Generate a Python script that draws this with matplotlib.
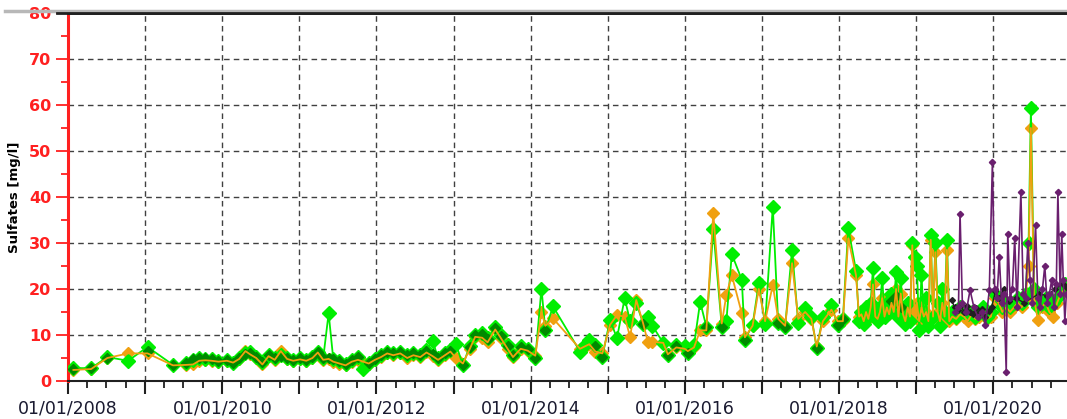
#!/usr/bin/env python3
# -*- coding: utf-8 -*-
"""Sulfates time series, recreated from the station chart"""

import datetime as dt
import matplotlib
matplotlib.use('Agg')
import matplotlib.pyplot as plt
import matplotlib.dates as mdates
from matplotlib.lines import Line2D
from matplotlib.ticker import FuncFormatter, MultipleLocator

# ---- data (decimal years) ----
green_years = [
    2008.07, 2008.30, 2008.51, 2008.78, 2009.03, 2009.36, 2009.53, 2009.62, 2009.70, 2009.78, 2009.86, 2009.95,
    2010.06, 2010.14, 2010.22, 2010.30, 2010.36, 2010.44, 2010.52, 2010.60, 2010.68, 2010.76, 2010.84, 2010.92,
    2011.01, 2011.09, 2011.17, 2011.24, 2011.31, 2011.38, 2011.44, 2011.52, 2011.60, 2011.68, 2011.76, 2011.83,
    2011.90, 2011.98,
    2012.06, 2012.14, 2012.22, 2012.31, 2012.40, 2012.48, 2012.57, 2012.65, 2012.73, 2012.80, 2012.89, 2012.96,
    2013.03, 2013.12, 2013.21, 2013.28, 2013.37, 2013.44, 2013.54, 2013.61, 2013.70, 2013.77, 2013.87, 2013.96,
    2014.06, 2014.14, 2014.19, 2014.29, 2014.64, 2014.70, 2014.76, 2014.84, 2014.93,
    2015.03, 2015.12, 2015.22, 2015.29, 2015.37, 2015.46, 2015.52, 2015.58, 2015.72, 2015.78, 2015.89, 2016.00,
    2016.04, 2016.12, 2016.20, 2016.28, 2016.37, 2016.48, 2016.54, 2016.61, 2016.74, 2016.78, 2016.88, 2016.96,
    2017.04, 2017.14, 2017.21, 2017.30, 2017.39, 2017.47, 2017.56, 2017.64, 2017.71, 2017.79, 2017.90, 2017.98,
    2018.05, 2018.12, 2018.22,
    2018.26, 2018.29, 2018.32, 2018.35, 2018.38, 2018.41, 2018.44, 2018.47, 2018.50, 2018.53, 2018.56, 2018.59,
    2018.62, 2018.65, 2018.68, 2018.71, 2018.74, 2018.77, 2018.80, 2018.83, 2018.86, 2018.89, 2018.92, 2018.95,
    2018.98, 2019.01, 2019.04, 2019.07, 2019.10, 2019.13, 2019.16, 2019.19, 2019.22, 2019.25, 2019.28, 2019.31,
    2019.34, 2019.37, 2019.40, 2019.43,
    2019.47, 2019.52, 2019.57, 2019.62, 2019.67, 2019.72, 2019.77, 2019.82, 2019.87, 2019.92, 2019.97, 2020.02,
    2020.07, 2020.12, 2020.17, 2020.22, 2020.27, 2020.32, 2020.37, 2020.42, 2020.46, 2020.49, 2020.53, 2020.58,
    2020.63, 2020.68, 2020.73, 2020.78, 2020.83, 2020.88, 2020.93,
]
green_vals = [
    2.8, 2.8, 5.2, 4.4, 7.4, 3.5, 4.0, 4.6, 5.0, 4.8, 4.7, 4.3,
    4.6, 4.0, 4.9, 6.0, 6.2, 5.3, 4.2, 5.7, 5.0, 5.6, 5.0, 4.5,
    4.9, 4.6, 5.3, 6.4, 5.0, 14.7, 4.8, 4.4, 3.8, 4.6, 5.2, 2.7,
    4.0, 4.8,
    5.6, 6.4, 6.0, 6.4, 5.6, 6.0, 5.6, 6.7, 8.8, 4.9, 6.0, 6.7,
    8.0, 3.5, 7.6, 10.0, 10.4, 9.3, 11.8, 10.0, 7.8, 5.6, 7.6, 7.0,
    4.9, 20.1, 11.1, 16.2, 6.4, 7.8, 8.9, 7.8, 5.3,
    13.3, 9.3, 18.0, 13.0, 17.0, 12.5, 14.0, 12.0, 8.3, 5.6, 7.8, 7.6,
    6.1, 7.8, 17.2, 11.8, 33.0, 11.8, 13.0, 27.6, 22.0, 9.0, 12.2, 21.2,
    12.3, 37.9, 12.6, 11.8, 28.5, 12.6, 15.8, 14.0, 7.1, 14.0, 16.5, 12.2,
    13.5, 33.2, 24.0,
    13.0, 15.0, 12.5, 16.0, 14.0, 17.0, 24.5, 15.0, 13.0, 16.0, 22.5, 14.0,
    17.0, 15.0, 19.0, 16.0, 23.8, 14.0, 22.5, 15.0, 12.5, 17.0, 13.0, 30.0,
    27.0, 25.0, 11.0, 23.0, 14.0, 18.0, 12.0, 31.7, 14.0, 30.0, 17.0, 12.0,
    20.0, 15.0, 30.7, 14.0,
    15.0, 14.0, 16.0, 15.0, 14.5, 15.0, 14.0, 15.0, 16.0, 14.0, 15.0, 19.0,
    18.0, 16.0, 17.0, 16.0, 17.0, 18.0, 17.0, 19.0, 30.0, 59.3, 20.0, 16.0,
    17.0, 18.0, 16.0, 17.0, 18.0, 20.0, 21.0,
]
orange_vals = [
    2.4, 2.6, 5.0, 6.0, 6.0, 3.4, 3.5, 3.6, 4.4, 4.5, 4.4, 4.2,
    4.4, 4.0, 4.8, 6.5, 5.8, 5.0, 3.6, 5.4, 4.6, 6.5, 4.8, 4.4,
    4.7, 4.4, 5.0, 6.2, 4.6, 4.8, 4.2, 3.8, 3.4, 4.2, 4.6, 4.2,
    3.8, 4.6,
    5.2, 6.0, 5.6, 6.0, 5.0, 5.6, 5.2, 6.2, 5.4, 4.6, 5.6, 6.4,
    5.0, 3.8, 7.0, 9.6, 9.4, 8.4, 11.2, 9.4, 7.0, 5.2, 7.0, 6.6,
    5.5, 15.0, 12.0, 13.6, 7.0, 7.5, 8.0, 6.4, 6.0,
    12.2, 14.3, 14.0, 9.6, 17.6, 12.5, 8.5, 8.5, 8.3, 5.8, 7.3, 7.0,
    6.5, 7.3, 11.0, 11.0, 36.5, 12.5, 18.7, 23.0, 14.7, 9.5, 12.0, 20.0,
    13.0, 20.9, 13.5, 12.0, 25.6, 13.5, 15.0, 13.5, 7.5, 13.0, 15.5, 13.0,
    13.0, 31.0, 23.0,
    14.0, 14.5, 13.0, 15.0, 13.5, 16.0, 21.0, 14.0, 13.5, 15.0, 18.0, 14.0,
    16.0, 14.5, 17.0, 15.0, 20.0, 14.0, 19.0, 14.5, 13.0, 16.0, 14.0, 29.5,
    15.0, 17.0, 13.0, 16.0, 14.0, 15.0, 13.0, 30.7, 14.0, 28.0, 15.0, 13.0,
    17.0, 14.0, 28.5, 13.0,
    14.0, 13.5, 14.5, 14.0, 13.0, 14.5, 13.5, 14.0, 15.0, 13.5, 14.0, 18.0,
    17.0, 15.0, 16.0, 15.0, 16.0, 17.0, 16.0, 18.0, 25.0, 55.0, 18.0, 13.3,
    16.0, 17.0, 15.0, 14.0, 17.0, 19.0, 20.0,
]

dkgreen_years = [
    2008.07, 2008.30, 2008.51, 2009.03, 2009.36, 2009.53, 2009.62, 2009.70, 2009.78, 2009.86, 2009.95,
    2010.06, 2010.14, 2010.22, 2010.30, 2010.36, 2010.44, 2010.52, 2010.60, 2010.68, 2010.76, 2010.84, 2010.92,
    2011.01, 2011.09, 2011.17, 2011.24, 2011.31, 2011.38, 2011.44, 2011.52, 2011.60, 2011.68, 2011.76,
    2011.90, 2011.98,
    2012.06, 2012.14, 2012.22, 2012.31, 2012.40, 2012.48, 2012.57, 2012.65, 2012.73, 2012.80, 2012.89, 2012.96,
    2013.12, 2013.21, 2013.28, 2013.37, 2013.44, 2013.54, 2013.61, 2013.70, 2013.77, 2013.87, 2013.96,
    2014.06, 2014.19, 2014.84, 2014.93, 2015.46, 2015.78, 2015.89, 2016.04, 2016.28, 2016.48, 2016.78,
    2017.21, 2017.30, 2017.71, 2017.98, 2018.05, 2018.68, 2018.74, 2018.80,
]
dkgreen_vals = [
    2.7, 2.8, 5.0, 6.5, 3.4, 4.0, 4.8, 5.0, 4.9, 4.8, 4.3,
    4.6, 4.0, 4.9, 5.8, 6.0, 5.2, 4.2, 5.6, 5.0, 5.5, 5.0, 4.5,
    4.9, 4.6, 5.3, 6.3, 5.0, 5.0, 4.8, 4.4, 3.8, 4.6, 5.2,
    4.0, 4.8,
    5.6, 6.4, 6.0, 6.4, 5.6, 6.0, 5.6, 6.6, 5.8, 4.9, 6.0, 6.6,
    3.5, 7.4, 9.9, 10.2, 9.1, 11.6, 9.8, 7.6, 5.6, 7.4, 6.9,
    4.9, 11.1, 7.6, 5.3, 12.5, 5.6, 7.6, 6.1, 11.8, 11.8, 9.0,
    12.6, 11.8, 7.1, 12.2, 13.4, 17.5, 18.5, 16.0,
]

black_years = [
    2019.46, 2019.50, 2019.54, 2019.58, 2019.62, 2019.66, 2019.70, 2019.74, 2019.78, 2019.82, 2019.86,
    2019.90, 2019.94, 2019.98, 2020.03, 2020.08, 2020.14, 2020.20, 2020.30, 2020.40, 2020.60, 2020.70,
    2020.80, 2020.90, 2020.94,
]
black_vals = [
    17.6, 16.0, 15.4, 16.5, 15.0, 16.2, 15.0, 14.5, 15.8, 14.8, 15.6,
    14.0, 15.2, 16.0, 19.5, 18.0, 20.0, 17.5, 18.0, 17.0, 19.0, 18.5,
    20.0, 21.0, 20.5,
]

purple_years = [
    2019.50, 2019.55, 2019.57, 2019.60, 2019.65, 2019.70, 2019.75, 2019.80, 2019.85, 2019.90, 2019.95, 2019.99,
    2020.02, 2020.05, 2020.08, 2020.11, 2020.14, 2020.17, 2020.19, 2020.22, 2020.25, 2020.28, 2020.31, 2020.36,
    2020.39, 2020.42, 2020.45, 2020.48, 2020.51, 2020.55, 2020.58, 2020.61, 2020.64, 2020.67, 2020.70, 2020.73,
    2020.76, 2020.79, 2020.82, 2020.84, 2020.87, 2020.89, 2020.91, 2020.93, 2020.95,
]
purple_vals = [
    15.0, 16.0, 36.4, 17.0, 15.0, 19.8, 16.0, 14.0, 15.0, 12.2, 19.8, 47.5,
    20.0, 18.0, 27.0, 17.0, 19.0, 2.0, 32.0, 18.0, 20.0, 31.0, 16.0, 41.0,
    19.0, 18.0, 30.0, 22.0, 17.0, 34.0, 18.0, 16.0, 20.0, 25.0, 17.0, 19.0,
    22.0, 16.0, 21.0, 41.0, 19.0, 32.0, 22.0, 13.0, 19.0,
]


def to_dates(years):
    """Convert decimal years to datetimes"""
    out = []
    for y in years:
        yr = int(y)
        start = dt.datetime(yr, 1, 1)
        out.append(start + dt.timedelta(days=(y - yr) * 365.25))
    return out


GREEN = '#00ee00'
DKGREEN = '#008a00'
ORANGE = '#f0a010'
PURPLE = '#6a1f6e'
RED = '#ff2020'

fig = plt.figure(figsize=(10.67, 4.19), dpi=100)
ax = fig.add_axes([68 / 1067, 1 - 381 / 419, 1 - 68 / 1067, 368 / 419])
plt.rcParams['font.family'] = ['Liberation Sans', 'DejaVu Sans']

g_dates = to_dates(green_years)
# orange markers sit under the green ones, the orange line runs on top
ax.plot(g_dates, orange_vals, 'D', color=ORANGE, ms=6.5, mec=ORANGE, zorder=2)
ax.plot(g_dates, green_vals, '-', color=GREEN, lw=1.3, zorder=3)
ax.plot(g_dates, green_vals, 'D', color=GREEN, ms=6.8, mec=GREEN, zorder=3)
ax.plot(to_dates(dkgreen_years), dkgreen_vals, 'D', color=DKGREEN, ms=5.5, mec=DKGREEN, zorder=5)
ax.plot(g_dates, orange_vals, '-', color=ORANGE, lw=1.3, zorder=6)
ax.plot(to_dates(black_years), black_vals, 'D-', color='#202020', ms=3, lw=1.0, zorder=6)
ax.plot(to_dates(purple_years), purple_vals, 'D-', color=PURPLE, ms=3.2, lw=1.2, zorder=7)

# axes limits and ticks
ax.set_ylim(0, 80)
ax.set_xlim(dt.datetime(2008, 1, 1), dt.datetime(2020, 12, 16))
ax.yaxis.set_major_locator(MultipleLocator(10))
ax.yaxis.set_minor_locator(MultipleLocator(5))
ax.xaxis.set_major_locator(mdates.YearLocator(1))
ax.xaxis.set_minor_locator(mdates.MonthLocator(bymonth=[4, 7, 10]))
ax.xaxis.set_major_formatter(FuncFormatter(
    lambda v, pos: mdates.num2date(v).strftime('01/01/%Y') if mdates.num2date(v).year % 2 == 0 else ''))

ax.tick_params(axis='y', which='major', length=9, width=1.3, colors=RED, labelsize=11.5, pad=3)
ax.tick_params(axis='y', which='minor', length=5, width=1.3, color=RED)
ax.tick_params(axis='x', which='major', length=9, width=1.5, color='#202020',
               labelsize=12.5, labelcolor='#1a1a30', pad=4)
ax.tick_params(axis='x', which='minor', length=5, width=1.3, color='#202020')
for lbl in ax.get_yticklabels():
    lbl.set_fontweight('bold')

ax.grid(True, which='major', color='#404040', linestyle=(0, (4, 3)), linewidth=1.0)

ax.spines['left'].set_color(RED)
ax.spines['left'].set_linewidth(2.2)
ax.spines['bottom'].set_color('#202020')
ax.spines['bottom'].set_linewidth(1.5)
ax.spines['top'].set_color('#202020')
ax.spines['top'].set_linewidth(2.0)
ax.spines['right'].set_visible(False)

ax.set_ylabel('Sulfates [mg/l]', fontsize=9.5, fontweight='bold', color='black', labelpad=6)

# thin frame line along the top, as in the original widget
fig.add_artist(Line2D([0.005, 1.0], [1 - 11 / 419, 1 - 11 / 419], color='#b8b8b8', lw=2.5))
fig.add_artist(Line2D([57 / 1067, 1.0], [1 - 13 / 419, 1 - 13 / 419], color='#202020', lw=2.0))

fig.savefig('out.png', dpi=100)
